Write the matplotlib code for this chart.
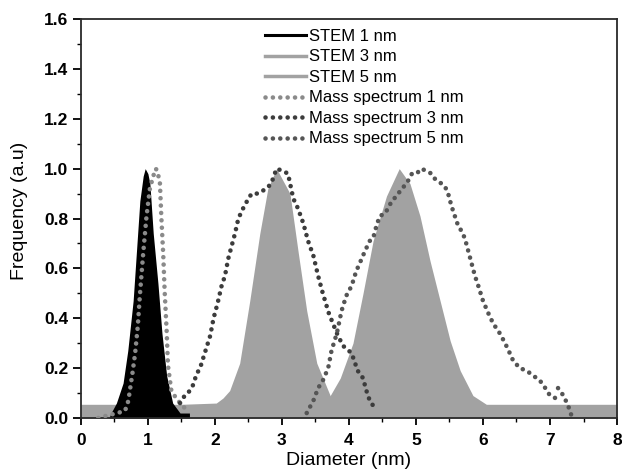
import numpy as np
import matplotlib
matplotlib.use('Agg')
import matplotlib.pyplot as plt
from matplotlib.ticker import MultipleLocator, FormatStrFormatter

plt.rcParams['font.family'] = ['Liberation Sans', 'DejaVu Sans']

# STEM size distributions (filled)
stem1_x = [0.42, 0.45, 0.53, 0.63, 0.70, 0.78, 0.83, 0.88, 0.93, 0.96, 1.00, 1.03, 1.08, 1.15, 1.21, 1.28, 1.37, 1.48, 1.62]
stem1_y = [0.0, 0.02, 0.06, 0.14, 0.27, 0.47, 0.67, 0.87, 0.97, 1.0, 0.98, 0.94, 0.74, 0.54, 0.34, 0.17, 0.06, 0.02, 0.02]

stem3_x = [0.0, 1.5, 2.02, 2.12, 2.22, 2.37, 2.52, 2.67, 2.79, 2.92, 3.12, 3.24, 3.37, 3.52, 3.72, 3.9]
stem3_y = [0.055, 0.055, 0.06, 0.08, 0.11, 0.22, 0.47, 0.74, 0.92, 1.0, 0.90, 0.67, 0.43, 0.22, 0.09, 0.055]

stem5_x = [3.72, 3.87, 4.06, 4.21, 4.36, 4.56, 4.75, 4.91, 5.06, 5.21, 5.36, 5.51, 5.66, 5.85, 6.05, 8.0]
stem5_y = [0.09, 0.16, 0.30, 0.50, 0.71, 0.89, 1.0, 0.94, 0.81, 0.63, 0.47, 0.31, 0.19, 0.09, 0.055, 0.055]

# mass spectrum distributions (dotted)
ms1_x = [0.26, 0.39, 0.55, 0.66, 0.70, 0.72, 0.77, 0.81, 0.85, 0.88, 0.93, 0.98, 1.03, 1.08, 1.12, 1.15, 1.18, 1.20,
         1.23, 1.25, 1.28, 1.30, 1.35, 1.42, 1.48, 1.55, 1.60]
ms1_y = [0.0, 0.01, 0.02, 0.03, 0.06, 0.09, 0.18, 0.26, 0.37, 0.49, 0.66, 0.81, 0.92, 0.97, 1.0, 0.98, 0.94, 0.81,
         0.65, 0.51, 0.35, 0.21, 0.11, 0.08, 0.06, 0.04, 0.02]

ms3_x = [1.48, 1.55, 1.60, 1.67, 1.72, 1.79, 1.86, 1.93, 1.98, 2.04, 2.10, 2.15, 2.20, 2.25, 2.30, 2.35, 2.42, 2.50,
         2.55, 2.64, 2.77, 2.84, 2.88, 2.92, 3.02, 3.09, 3.13, 3.17, 3.24, 3.32, 3.39, 3.47, 3.54, 3.61, 3.70, 3.82,
         3.91, 4.04, 4.13, 4.21, 4.26, 4.31, 4.36, 4.39]
ms3_y = [0.06, 0.09, 0.10, 0.13, 0.17, 0.21, 0.27, 0.33, 0.40, 0.46, 0.53, 0.57, 0.64, 0.69, 0.74, 0.80, 0.84, 0.88,
         0.90, 0.90, 0.92, 0.94, 0.97, 1.0, 0.99, 0.98, 0.93, 0.88, 0.84, 0.78, 0.71, 0.65, 0.57, 0.50, 0.42, 0.34,
         0.29, 0.26, 0.19, 0.16, 0.11, 0.07, 0.05, 0.03]

ms5_x = [3.37, 3.47, 3.54, 3.61, 3.69, 3.74, 3.82, 3.89, 3.96, 4.04, 4.11, 4.16, 4.24, 4.31, 4.36, 4.41, 4.46, 4.54,
         4.58, 4.64, 4.71, 4.79, 4.86, 4.94, 5.01, 5.08, 5.16, 5.23, 5.28, 5.38, 5.43, 5.48, 5.53, 5.58, 5.63, 5.68,
         5.73, 5.78, 5.83, 5.88, 5.93, 6.00, 6.08, 6.15, 6.25, 6.33, 6.40, 6.45, 6.55, 6.65, 6.75, 6.85, 6.93, 7.00,
         7.08, np.nan, 7.12, 7.20, 7.27, 7.32]
ms5_y = [0.02, 0.07, 0.12, 0.15, 0.20, 0.27, 0.34, 0.43, 0.49, 0.53, 0.59, 0.62, 0.67, 0.71, 0.72, 0.77, 0.81, 0.82,
         0.84, 0.87, 0.89, 0.92, 0.94, 0.98, 0.98, 1.0, 0.99, 0.98, 0.96, 0.94, 0.93, 0.90, 0.85, 0.81, 0.77, 0.75,
         0.72, 0.67, 0.62, 0.57, 0.53, 0.47, 0.42, 0.38, 0.34, 0.30, 0.26, 0.23, 0.20, 0.19, 0.17, 0.15, 0.12, 0.09,
         0.08, np.nan, 0.12, 0.09, 0.05, 0.01]

fill_gray = '#a2a2a2'
dots = (0, (0.01, 1.6))

fig = plt.figure(figsize=(6.22, 4.70), dpi=100)
ax = fig.add_axes([0.130, 0.1106, 0.862, 0.849])

ax.fill_between(stem3_x, 0, stem3_y, color=fill_gray, lw=0, zorder=1)
ax.fill_between(stem5_x, 0, stem5_y, color=fill_gray, lw=0, zorder=1)
ax.fill_between(stem1_x, 0, stem1_y, color='black', lw=0, zorder=2)

ax.plot([], [], color='black', lw=2.2, label='STEM 1 nm')
ax.plot([], [], color=fill_gray, lw=2.5, label='STEM 3 nm')
ax.plot([], [], color=fill_gray, lw=2.5, label='STEM 5 nm')
ax.plot(ms1_x, ms1_y, color='#8a8a8a', lw=3.3, ls=dots, dash_capstyle='round', zorder=3, label='Mass spectrum 1 nm')
ax.plot(ms3_x, ms3_y, color='#3c3c3c', lw=3.3, ls=dots, dash_capstyle='round', zorder=3, label='Mass spectrum 3 nm')
ax.plot(ms5_x, ms5_y, color='#555555', lw=3.3, ls=dots, dash_capstyle='round', zorder=3, label='Mass spectrum 5 nm')

ax.set_xlim(0, 8)
ax.set_ylim(0, 1.6)
ax.xaxis.set_major_locator(MultipleLocator(1))
ax.xaxis.set_minor_locator(MultipleLocator(0.5))
ax.yaxis.set_major_locator(MultipleLocator(0.2))
ax.yaxis.set_minor_locator(MultipleLocator(0.1))
ax.yaxis.set_major_formatter(FormatStrFormatter('%.1f'))
ax.tick_params(which='major', direction='out', length=5, width=1.3, labelsize=12.5)
ax.tick_params(axis='y', which='major', length=6, pad=3)
ax.tick_params(axis='x', which='major', pad=6)
ax.tick_params(which='minor', direction='out', length=3, width=1.0)
for lab in ax.get_xticklabels() + ax.get_yticklabels():
    lab.set_fontweight('bold')
for sp in ax.spines.values():
    sp.set_linewidth(1.3)
    sp.set_color('#2a2a2a')

ax.set_xlabel('Diameter (nm)', fontsize=14)
ax.set_ylabel('Frequency (a.u)', fontsize=14)
ax.xaxis.set_label_coords(0.5, -0.085)
ax.yaxis.set_label_coords(-0.099, 0.519)

ax.legend(loc='upper left', bbox_to_anchor=(0.343, 0.975), frameon=False, fontsize=12,
          handlelength=2.5, handletextpad=0.15, labelspacing=0.33, borderaxespad=0, borderpad=0)

fig.savefig('out.png', dpi=100)
